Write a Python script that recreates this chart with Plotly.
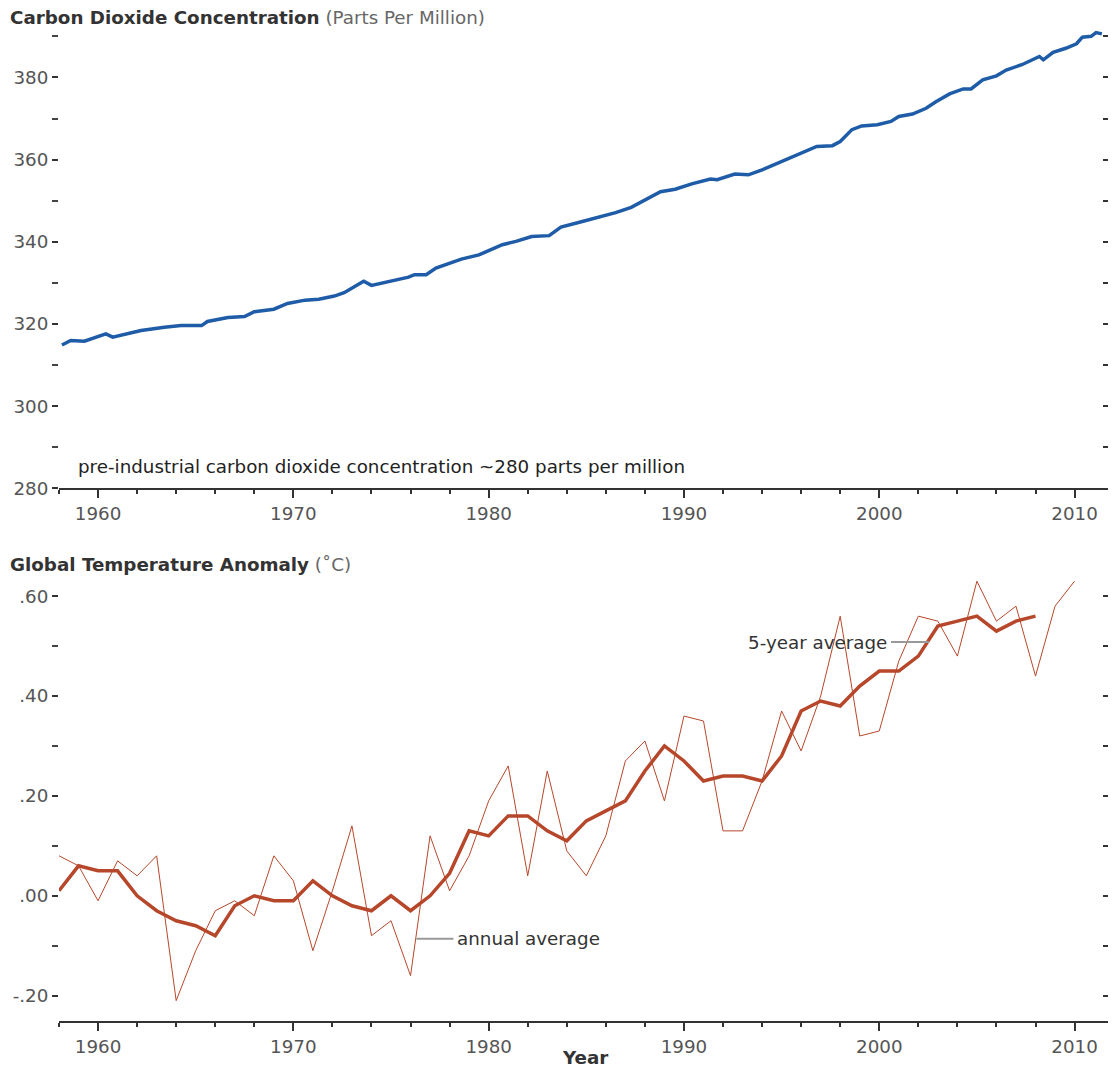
import plotly.graph_objects as go

# ---------------- data ----------------
co2_years = [1958.15, 1958.6, 1959.3, 1959.8, 1960.4, 1960.75, 1961.5, 1962.2, 1963.4, 1964.25,
             1965.3, 1965.6, 1966.65, 1967.5, 1968.0, 1969.0, 1969.7, 1970.6, 1971.3, 1972.1,
             1972.6, 1973.6, 1974.0, 1975.0, 1975.9, 1976.2, 1976.8, 1977.3, 1978.6, 1979.5,
             1980.7, 1981.4, 1982.2, 1983.1, 1983.7, 1984.6, 1985.45, 1986.5, 1987.3, 1988.0,
             1988.8, 1989.55, 1990.4, 1991.35, 1991.7, 1992.6, 1993.3, 1994.0, 1994.85, 1995.7,
             1996.5, 1996.8, 1997.6, 1998.0, 1998.6, 1999.1, 1999.9, 2000.6, 2001.0, 2001.7,
             2002.4, 2002.9, 2003.6, 2004.3, 2004.7, 2005.3, 2006.0, 2006.5, 2007.3, 2008.2,
             2008.4, 2008.9, 2009.55, 2010.1, 2010.4, 2010.85, 2011.1, 2011.4]
co2_ppm = [314.9, 316.0, 315.8, 316.6, 317.6, 316.8, 317.6, 318.4, 319.2, 319.6,
           319.6, 320.6, 321.6, 321.8, 323.0, 323.6, 325.0, 325.8, 326.0, 326.8,
           327.6, 330.4, 329.4, 330.4, 331.4, 332.0, 332.0, 333.6, 335.8, 336.8,
           339.3, 340.1, 341.3, 341.5, 343.6, 344.7, 345.8, 347.1, 348.4, 350.2,
           352.2, 352.8, 354.1, 355.3, 355.1, 356.5, 356.3, 357.5, 359.2, 360.9,
           362.4, 363.2, 363.4, 364.4, 367.3, 368.2, 368.5, 369.3, 370.5, 371.1,
           372.5, 374.1, 376.0, 377.2, 377.2, 379.4, 380.4, 381.8, 383.1, 385.1,
           384.3, 386.1, 387.1, 388.2, 389.8, 390.0, 390.9, 390.6]

annual_years = list(range(1958, 2011))
annual_anomaly = [0.08, 0.06, -0.01, 0.07, 0.04, 0.08, -0.21, -0.11, -0.03, -0.01,
                  -0.04, 0.08, 0.03, -0.11, 0.01, 0.14, -0.08, -0.05, -0.16, 0.12,
                  0.01, 0.08, 0.19, 0.26, 0.04, 0.25, 0.09, 0.04, 0.12, 0.27,
                  0.31, 0.19, 0.36, 0.35, 0.13, 0.13, 0.23, 0.37, 0.29, 0.40,
                  0.56, 0.32, 0.33, 0.47, 0.56, 0.55, 0.48, 0.63, 0.55, 0.58,
                  0.44, 0.58, 0.63]

avg5_years = list(range(1958, 2009))
avg5_anomaly = [0.01, 0.06, 0.05, 0.05, 0.00, -0.03, -0.05, -0.06, -0.08, -0.02,
                0.00, -0.01, -0.01, 0.03, 0.00, -0.02, -0.03, 0.00, -0.03, 0.00,
                0.045, 0.13, 0.12, 0.16, 0.16, 0.13, 0.11, 0.15, 0.17, 0.19,
                0.25, 0.30, 0.27, 0.23, 0.24, 0.24, 0.23, 0.28, 0.37, 0.39,
                0.38, 0.42, 0.45, 0.45, 0.48, 0.54, 0.55, 0.56, 0.53, 0.55,
                0.56]

co2_tickvals = [280, 300, 320, 340, 360, 380]
temp_tickvals = [-0.2, 0.0, 0.2, 0.4, 0.6]
temp_ticktext = ["-.20", ".00", ".20", ".40", ".60"]

# ---------------- style ----------------
FONT = "DejaVu Sans"
FS = 18.3
BLUE = "#1f5ca8"
RUST = "#b7472b"
TICKC = "#333333"
LABC = "#555555"
OFF = 8                 # page body margin added by the browser
VSCALE = 0.992          # observed vertical scale of the page photo
W, H = 1116 - 2 * OFF, 1083 - 2 * OFF
ML, MR = 51, 0
PX_PER_YEAR = 19.53
XR = [1958, 1958 + (W - ML - MR) / PX_PER_YEAR]


def py(ref_y):
    """reference page pixel row -> paper fraction"""
    return 1 - ((ref_y - OFF) / VSCALE) / H


def px(ref_x):
    """reference page pixel column -> paper fraction"""
    return (ref_x - OFF - ML) / (W - ML - MR)


fig = go.Figure()
fig.add_trace(go.Scatter(x=co2_years, y=co2_ppm, mode="lines",
                         line=dict(color=BLUE, width=3.5), xaxis="x", yaxis="y",
                         hoverinfo="skip"))
fig.add_trace(go.Scatter(x=annual_years, y=annual_anomaly, mode="lines",
                         line=dict(color=RUST, width=1), xaxis="x2", yaxis="y2",
                         hoverinfo="skip"))
fig.add_trace(go.Scatter(x=avg5_years, y=avg5_anomaly, mode="lines",
                         line=dict(color=RUST, width=3.5), xaxis="x2", yaxis="y2",
                         hoverinfo="skip"))
fig.add_trace(go.Scatter(x=[None], y=[None], xaxis="x", yaxis="y3", hoverinfo="skip"))
fig.add_trace(go.Scatter(x=[None], y=[None], xaxis="x2", yaxis="y4", hoverinfo="skip"))


def xaxis_cfg(anchor):
    return dict(anchor=anchor, domain=[0, 1], range=XR, tick0=1960, dtick=10,
                ticks="outside", ticklen=8, tickwidth=1.5, tickcolor=TICKC,
                showline=True, linecolor=TICKC, linewidth=2,
                minor=dict(tick0=1958, dtick=2, ticks="outside", ticklen=4,
                           tickwidth=1.5, tickcolor=TICKC),
                tickfont=dict(family=FONT, size=FS, color=LABC),
                showgrid=False, zeroline=False, fixedrange=True)


def yleft_cfg(domain, rng, anchor, tickvals, ticktext, minor_tick0, minor_dtick):
    d = dict(domain=domain, range=rng, anchor=anchor,
             tickmode="array", tickvals=tickvals,
             ticks="outside", ticklen=6, tickwidth=1.5, tickcolor=TICKC,
             minor=dict(tick0=minor_tick0, dtick=minor_dtick, ticks="outside", ticklen=6,
                        tickwidth=1.5, tickcolor="#444444"),
             tickfont=dict(family=FONT, size=FS, color=LABC),
             showgrid=False, zeroline=False, showline=False, fixedrange=True)
    if ticktext is not None:
        d["ticktext"] = ticktext
    return d


def yright_cfg(over, anchor, rng, tick0, dtick):
    return dict(overlaying=over, anchor=anchor, side="right", range=rng,
                tick0=tick0, dtick=dtick, ticks="inside", ticklen=5, tickwidth=1.5,
                tickcolor=TICKC, showticklabels=False, showgrid=False,
                zeroline=False, showline=False, fixedrange=True)


CO2_RANGE = [280, 393.5]
T_RANGE = [-0.25, 0.64]

fig.update_layout(
    width=W, height=H,
    margin=dict(l=ML, r=MR, t=0, b=0),
    plot_bgcolor="white", paper_bgcolor="white",
    showlegend=False,
    font=dict(family=FONT, size=FS, color=LABC),
    xaxis=xaxis_cfg("y"),
    xaxis2=xaxis_cfg("y2"),
    yaxis=yleft_cfg([py(489), py(22)], CO2_RANGE, "x", co2_tickvals, None, 280, 10),
    yaxis3=yright_cfg("y", "x", CO2_RANGE, 280, 10),
    yaxis2=yleft_cfg([py(1022), py(577)], T_RANGE, "x2", temp_tickvals, temp_ticktext, 0, 0.1),
    yaxis4=yright_cfg("y2", "x2", T_RANGE, 0, 0.1),
)

annotations = [
    dict(text="<b>Carbon Dioxide Concentration</b> <span style='color:#666666'>(Parts Per Million)</span>",
         xref="paper", yref="paper", x=px(8), y=py(18),
         xanchor="left", yanchor="middle", showarrow=False,
         font=dict(family=FONT, size=FS, color="#333333")),
    dict(text="<b>Global Temperature Anomaly</b> <span style='color:#666666'>(˚C)</span>",
         xref="paper", yref="paper", x=px(8), y=py(565),
         xanchor="left", yanchor="middle", showarrow=False,
         font=dict(family=FONT, size=FS, color="#333333")),
    dict(text="pre-industrial carbon dioxide concentration ~280 parts per million",
         xref="x", yref="y", x=1958.87, y=285.3, xanchor="left", yanchor="middle",
         showarrow=False, font=dict(family=FONT, size=FS, color="#222222")),
    dict(text="annual average", xref="x2", yref="y2", x=1978.3, y=-0.086,
         xanchor="left", yanchor="middle", showarrow=False,
         font=dict(family=FONT, size=FS, color="#333333")),
    dict(text="5-year average", xref="x2", yref="y2", x=2000.5, y=0.508,
         xanchor="right", yanchor="middle", showarrow=False,
         font=dict(family=FONT, size=FS, color="#333333")),
    dict(text="<b>Year</b>", xref="paper", yref="paper", x=px(585),
         y=0, xanchor="center", yanchor="bottom", yshift=-5, showarrow=False,
         font=dict(family=FONT, size=FS, color="#333333")),
]
fig.update_layout(annotations=annotations)

# leader lines for the two series labels
fig.add_shape(type="line", xref="x2", yref="y2", x0=1976.3, x1=1978.2, y0=-0.086, y1=-0.086,
              line=dict(color="#999999", width=2))
fig.add_shape(type="line", xref="x2", yref="y2", x0=2000.6, x1=2002.55, y0=0.508, y1=0.508,
              line=dict(color="#999999", width=2))

fig.write_html("out.html")
